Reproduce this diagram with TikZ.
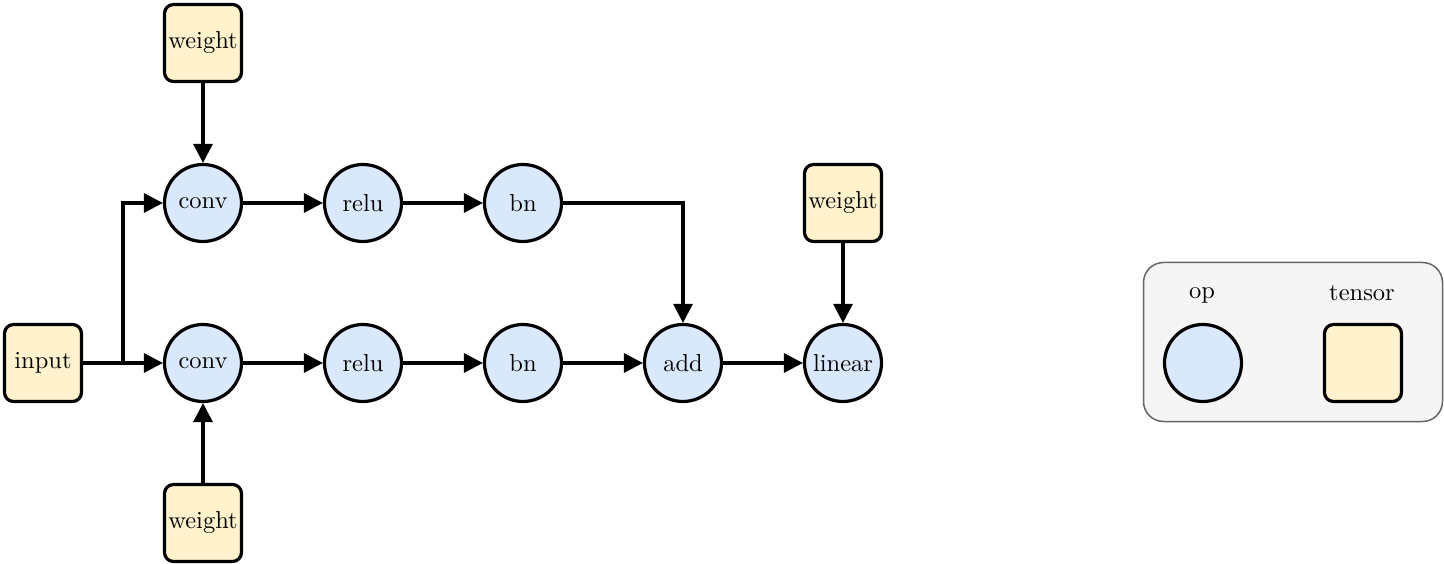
\documentclass[tikz,border=0pt]{standalone}
\usepackage{fontspec}
\setmainfont{lmroman10-regular}[Extension=.otf]
\usetikzlibrary{arrows.meta}
\definecolor{opfill}{HTML}{DAE8FC}
\definecolor{tfill}{HTML}{FFF2CC}
\definecolor{legfill}{HTML}{F5F5F5}
\definecolor{legdraw}{HTML}{666666}
\begin{document}
\begin{tikzpicture}[x=1pt,y=-1pt,
  every node/.style={font=\fontsize{24.5}{29}\selectfont},
  op/.style={circle,draw=black,line width=3.2pt,fill=opfill,minimum size=77pt,inner sep=0pt},
  tensor/.style={rectangle,rounded corners=9pt,draw=black,line width=3.2pt,fill=tfill,minimum size=77pt,inner sep=0pt},
  conn/.style={line width=3.2pt,-{Triangle[length=19pt,width=19pt]}},
  legbox/.style={rectangle,rounded corners=20pt,draw=legdraw,line width=1.5pt,fill=legfill,minimum width=299pt,minimum height=159pt},
  lbl/.style={inner sep=0pt}]
\useasboundingbox (0,0) rectangle (1444,564);
% legend
\node[legbox] (leg) at (1293,342) {};
\node[lbl] (oplbl) at (1202,295) {op};
\node[lbl] (tlbl) at (1362,293) {tensor};
\node[op] (legop) at (1203,363) {};
\node[tensor] (legt) at (1363,363) {};
% nodes
\node[tensor] (w1) at (203,43) {weight};
\node[tensor] (in) at (43,363) {input};
\node[tensor] (w2) at (203,523) {weight};
\node[tensor] (w3) at (843,203) {weight};
\node[op] (c1) at (203,203) {conv};
\node[op] (r1) at (363,203) {relu};
\node[op] (b1) at (523,203) {bn};
\node[op] (c2) at (203,363) {conv};
\node[op] (r2) at (363,363) {relu};
\node[op] (b2) at (523,363) {bn};
\node[op] (add) at (683,363) {add};
\node[op] (lin) at (843,363) {linear};
\coordinate (split) at (123,363);
% edges
\draw[conn] (in) -- (c2);
\draw[conn] (in.east) -- (split) |- (c1.west);
\draw[conn] (w1) -- (c1);
\draw[conn] (w2) -- (c2);
\draw[conn] (c1) -- (r1);
\draw[conn] (r1) -- (b1);
\draw[conn] (c2) -- (r2);
\draw[conn] (r2) -- (b2);
\draw[conn] (b2) -- (add);
\draw[conn] (b1.east) -| (add.north);
\draw[conn] (add) -- (lin);
\draw[conn] (w3) -- (lin);
\end{tikzpicture}
\end{document}
